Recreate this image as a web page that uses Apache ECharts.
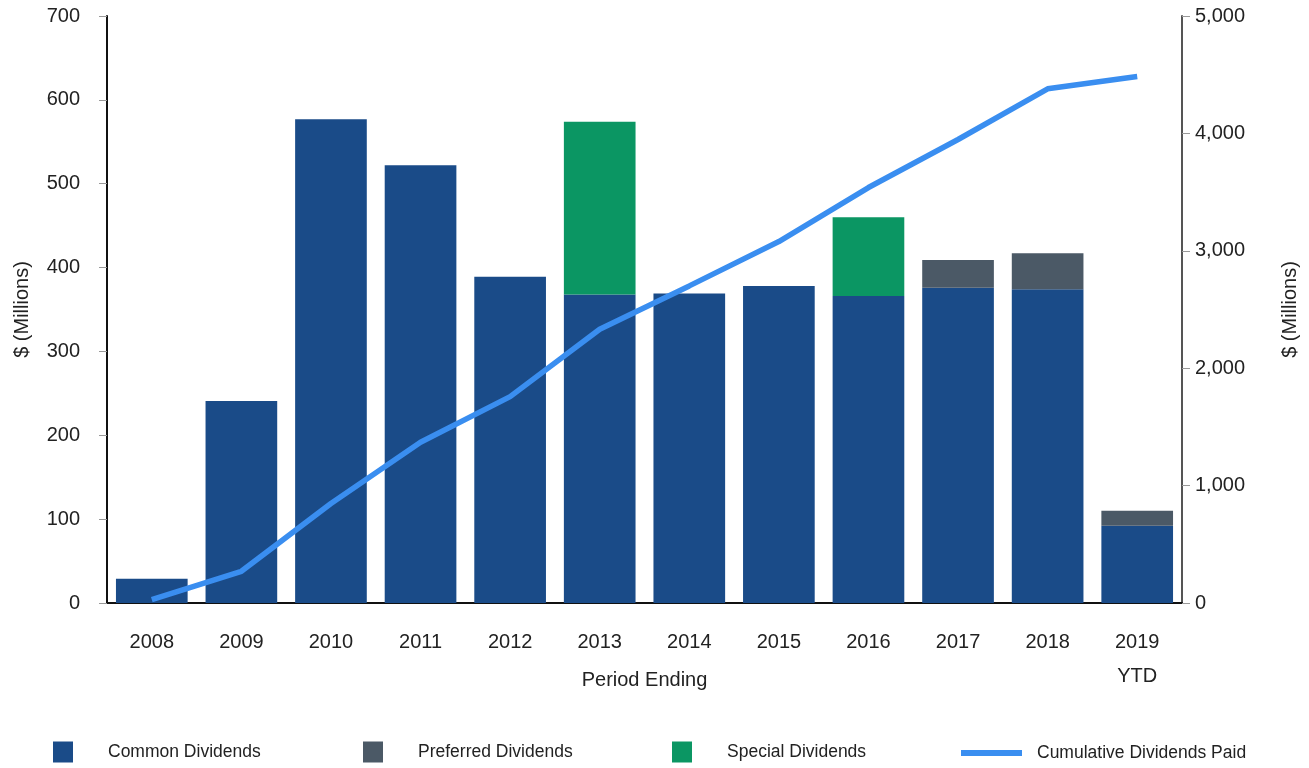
<!DOCTYPE html>
<html>
<head>
<meta charset="utf-8">
<title>Dividends</title>
<style>
  html, body { margin: 0; padding: 0; background: #fff; }
  #main { width: 1309px; height: 768px; }
</style>
<script src="https://cdn.jsdelivr.net/npm/echarts@6/dist/echarts.min.js"></script>
</head>
<body>
<div id="main"></div>
<script type="text/javascript">
// data ($ millions)
var years = ['2008', '2009', '2010', '2011', '2012', '2013', '2014', '2015', '2016', '2017', '2018', '2019\nYTD'];
var commonDiv = [29, 241, 577, 522, 389, 368, 369, 378, 366, 376, 374, 92];
var preferredDiv = [0, 0, 0, 0, 0, 0, 0, 0, 0, 33, 43, 18];
var specialDiv = [0, 0, 0, 0, 0, 206, 0, 0, 94, 0, 0, 0];
var cumulativeDiv = [29, 270, 847, 1369, 1758, 2332, 2701, 3079, 3539, 3948, 4380, 4485];
var leftTicks = [0, 700, 100];
var rightTicks = [0, 5000, 1000];

var fontName = '"Liberation Sans", Arial, sans-serif';
var myChart = echarts.init(document.getElementById('main'));

// one legend block per entry so each can sit where the original has it
function legendItem(name, x, top, w, h, gap) {
    return {
        data: [name],
        left: x,
        top: top,
        padding: 0,
        icon: 'rect',
        itemWidth: w,
        itemHeight: h,
        selectedMode: false,
        textStyle: {
            fontFamily: fontName,
            fontSize: 17.5,
            color: '#222',
            padding: [0, 0, 0, gap]
        }
    };
}

var option = {
    animation: false,
    backgroundColor: '#fff',
    grid: { left: 107, right: 127, top: 16, bottom: 165 },
    legend: [
        legendItem('Common Dividends', 53, 741.5, 20, 21, 30),
        legendItem('Preferred Dividends', 363, 741.5, 20, 21, 30),
        legendItem('Special Dividends', 672, 741.5, 20, 21, 30),
        legendItem('Cumulative Dividends Paid', 961, 744, 61, 6, 10)
    ],
    xAxis: {
        type: 'category',
        data: years,
        name: 'Period Ending',
        nameLocation: 'middle',
        nameGap: 67,
        nameMoveOverlap: false,
        nameTextStyle: { fontFamily: fontName, fontSize: 20, color: '#222' },
        axisLine: { lineStyle: { color: '#111', width: 2 } },
        axisTick: { alignWithLabel: true, length: 9, lineStyle: { color: '#999' } },
        axisLabel: { fontFamily: fontName, fontSize: 20, color: '#222', margin: 22, lineHeight: 34 }
    },
    yAxis: [
        {
            type: 'value',
            min: leftTicks[0], max: leftTicks[1], interval: leftTicks[2],
            name: '$ (Millions)',
            nameLocation: 'middle',
            nameRotate: 90,
            nameGap: 75,
            nameTextStyle: { fontFamily: fontName, fontSize: 20, color: '#222' },
            axisLine: { show: true, lineStyle: { color: '#111', width: 2 } },
            axisTick: { show: true, length: 8, lineStyle: { color: '#999' } },
            axisLabel: { fontFamily: fontName, fontSize: 20, color: '#222', margin: 27 },
            splitLine: { show: false }
        },
        {
            type: 'value',
            position: 'right',
            min: rightTicks[0], max: rightTicks[1], interval: rightTicks[2],
            name: '$ (Millions)',
            nameLocation: 'middle',
            nameRotate: 90,
            nameGap: 98,
            nameTextStyle: { fontFamily: fontName, fontSize: 20, color: '#222' },
            axisLine: { show: true, lineStyle: { color: '#555', width: 2 } },
            axisTick: { show: true, length: 8, lineStyle: { color: '#999' } },
            axisLabel: {
                fontFamily: fontName, fontSize: 20, color: '#222', margin: 13,
                formatter: function (v) {
                    return String(v).replace(/\B(?=(\d{3})+(?!\d))/g, ',');
                }
            },
            splitLine: { show: false }
        }
    ],
    series: [
        {
            name: 'Common Dividends',
            type: 'bar',
            stack: 'div',
            barCategoryGap: '20%',
            itemStyle: { color: '#1a4b88' },
            data: commonDiv
        },
        {
            name: 'Preferred Dividends',
            type: 'bar',
            stack: 'div',
            itemStyle: { color: '#4b5966' },
            data: preferredDiv
        },
        {
            name: 'Special Dividends',
            type: 'bar',
            stack: 'div',
            itemStyle: { color: '#0b9663' },
            data: specialDiv
        },
        {
            name: 'Cumulative Dividends Paid',
            type: 'line',
            yAxisIndex: 1,
            showSymbol: false,
            symbol: 'none',
            z: 5,
            itemStyle: { color: '#3a8ef0' },
            lineStyle: { color: '#3a8ef0', width: 5.5 },
            data: cumulativeDiv
        }
    ]
};

myChart.setOption(option);
</script>
</body>
</html>
